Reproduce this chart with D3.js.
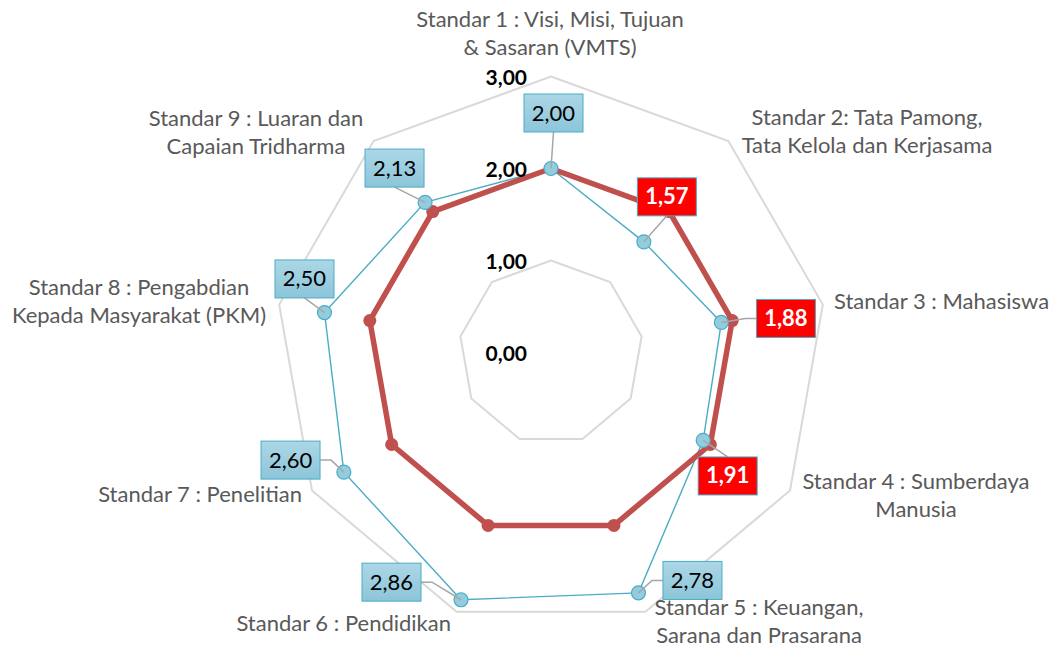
<!DOCTYPE html>
<html>
<head>
<meta charset="utf-8">
<script src="https://cdn.jsdelivr.net/npm/d3@7"></script>
<style>
  body { margin: 0; background: #fff; }
  svg text { font-family: Lato, "Liberation Sans", sans-serif; }
</style>
</head>
<body>
<svg id="chart" width="1057" height="647"></svg>
<script>
// categories (axis labels, split in lines as in the original)
const categories = [
  ["Standar 1 : Visi, Misi, Tujuan", "& Sasaran (VMTS)"],
  ["Standar 2: Tata Pamong,", "Tata Kelola dan Kerjasama"],
  ["Standar 3 : Mahasiswa"],
  ["Standar 4 : Sumberdaya", "Manusia"],
  ["Standar 5 : Keuangan,", "Sarana dan Prasarana"],
  ["Standar 6 : Pendidikan"],
  ["Standar 7 : Penelitian"],
  ["Standar 8 : Pengabdian", "Kepada Masyarakat (PKM)"],
  ["Standar 9 : Luaran dan", "Capaian Tridharma"]
];
// series values
const capaian = [2.00, 1.57, 1.88, 1.91, 2.78, 2.86, 2.60, 2.50, 2.13];
const batas = [2.00, 2.00, 2.00, 2.00, 2.00, 2.00, 2.00, 2.00, 2.00];
// radial ticks
const tickValues = [0, 1, 2, 3];
const tickLabels = ["0,00", "1,00", "2,00", "3,00"];

// layout only (where excel placed the text)
const catPos = [
  {x: 550, y: 27, a: "middle"},
  {x: 867, y: 125, a: "middle"},
  {x: 834, y: 309, a: "start"},
  {x: 916, y: 489, a: "middle"},
  {x: 759, y: 615, a: "middle"},
  {x: 451, y: 631, a: "end"},
  {x: 302, y: 502, a: "end"},
  {x: 139, y: 295, a: "middle"},
  {x: 256, y: 126, a: "middle"}
];
// value box offset from its point
const boxOff = [[2.5, -55.5], [23, -45], [64.6, -4], [24.5, 35.6], [54, -12.4],
                [-69.5, -17.6], [-53.3, -12], [-20, -33.6], [-30.5, -34.3]];

const cx = 551, cy = 352.5;
const svg = d3.select("#chart");

const r = d3.scaleLinear().domain([0, 3]).range([0, 276]);
const angle = d3.scaleLinear().domain([0, categories.length]).range([0, 2 * Math.PI]);

function pt(i, v) {
  const a = angle(i);
  return [cx + r(v) * Math.sin(a), cy - r(v) * Math.cos(a)];
}

const g = svg.append("g").attr("transform", `translate(${cx},${cy})`);

const radial = d3.lineRadial()
  .angle((d, i) => angle(i))
  .radius(d => r(d))
  .curve(d3.curveLinearClosed);

// grid rings
g.selectAll(".ring")
  .data(tickValues.filter(t => t > 0))
  .join("path")
  .attr("class", "ring")
  .attr("d", t => radial(categories.map(() => t)))
  .attr("fill", "none")
  .attr("stroke", "#d9d9d9")
  .attr("stroke-width", 2);

// tick labels
svg.selectAll(".tick")
  .data(tickValues)
  .join("text")
  .attr("class", "tick")
  .attr("x", 527)
  .attr("y", t => cy - r(t) + 8)
  .attr("text-anchor", "end")
  .attr("font-size", 21)
  .attr("font-weight", "bold")
  .attr("fill", "#000")
  .text((t, i) => tickLabels[i]);

// blue series line
g.append("path")
  .attr("d", radial(capaian))
  .attr("fill", "none")
  .attr("stroke", "#4bacc6")
  .attr("stroke-width", 1.4);

// red series line
g.append("path")
  .attr("d", radial(batas))
  .attr("fill", "none")
  .attr("stroke", "#c0504d")
  .attr("stroke-width", 5.5)
  .attr("stroke-linejoin", "round");

svg.selectAll(".dotRed")
  .data(batas)
  .join("circle")
  .attr("class", "dotRed")
  .attr("cx", (d, i) => pt(i, d)[0])
  .attr("cy", (d, i) => pt(i, d)[1])
  .attr("r", 6.5)
  .attr("fill", "#c0504d");

svg.selectAll(".dotBlue")
  .data(capaian)
  .join("circle")
  .attr("class", "dotBlue")
  .attr("cx", (d, i) => pt(i, d)[0])
  .attr("cy", (d, i) => pt(i, d)[1])
  .attr("r", 7)
  .attr("fill", "#93cddd")
  .attr("stroke", "#4bacc6")
  .attr("stroke-width", 1.2);

// gradient for the label boxes
const grad = svg.append("defs").append("linearGradient")
  .attr("id", "boxGrad").attr("x1", 0).attr("y1", 0).attr("x2", 0).attr("y2", 1);
grad.append("stop").attr("offset", "0%").attr("stop-color", "#acd7e6");
grad.append("stop").attr("offset", "100%").attr("stop-color", "#8cc5d9");

const bw = 59, bh = 38;

// data labels with leader lines
capaian.forEach((v, i) => {
  const [px, py] = pt(i, v);
  const bx = px + boxOff[i][0], by = py + boxOff[i][1];
  let path;
  if (Math.abs(boxOff[i][1]) > 25) {
    const ey = by + (boxOff[i][1] < 0 ? bh / 2 : -bh / 2);
    path = `M${bx},${ey}L${px},${py}`;
  } else {
    const side = boxOff[i][0] > 0 ? -1 : 1;
    const ex = bx + side * bw / 2;
    path = `M${ex},${by}L${ex + side * 11},${by}L${px},${py}`;
  }
  svg.append("path")
    .attr("d", path)
    .attr("fill", "none")
    .attr("stroke", "#a6a6a6")
    .attr("stroke-width", 1.5);

  const low = v < batas[i];
  svg.append("rect")
    .attr("x", bx - bw / 2).attr("y", by - bh / 2)
    .attr("width", bw).attr("height", bh)
    .attr("fill", low ? "#ff0000" : "url(#boxGrad)")
    .attr("stroke", "#4bacc6")
    .attr("stroke-width", 1);
  svg.append("text")
    .attr("x", bx).attr("y", by + 7.5)
    .attr("text-anchor", "middle")
    .attr("font-size", 22)
    .attr("font-weight", low ? "bold" : "normal")
    .attr("fill", low ? "#fff" : "#000")
    .text(d3.format(".2f")(v).replace(".", ","));
});

// category labels
categories.forEach((lines, i) => {
  const t = svg.append("text")
    .attr("x", catPos[i].x)
    .attr("y", catPos[i].y)
    .attr("text-anchor", catPos[i].a)
    .attr("font-size", 22)
    .attr("fill", "#595959");
  lines.forEach((s, k) => {
    t.append("tspan").attr("x", catPos[i].x).attr("y", catPos[i].y + k * 28).text(s);
  });
});
</script>
</body>
</html>
